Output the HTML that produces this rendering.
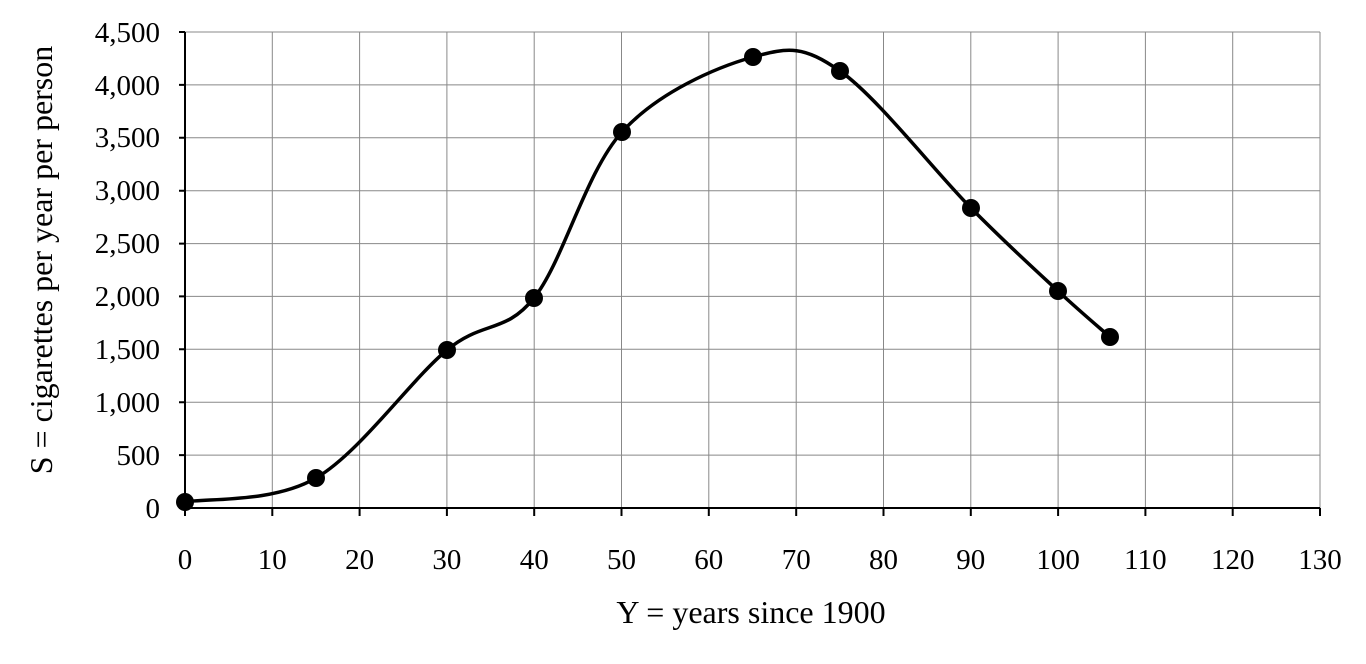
<!DOCTYPE html>
<html><head><style>body{margin:0;background:#fff}</style></head><body>
<svg width="1366" height="659" xmlns="http://www.w3.org/2000/svg" font-family="Liberation Serif, serif" font-size="29">
<g stroke="#888" stroke-width="1">
<line x1="185" y1="455.1" x2="1320" y2="455.1"/><line x1="185" y1="402.2" x2="1320" y2="402.2"/>
<line x1="185" y1="349.3" x2="1320" y2="349.3"/><line x1="185" y1="296.4" x2="1320" y2="296.4"/>
<line x1="185" y1="243.6" x2="1320" y2="243.6"/><line x1="185" y1="190.7" x2="1320" y2="190.7"/>
<line x1="185" y1="137.8" x2="1320" y2="137.8"/><line x1="185" y1="84.9" x2="1320" y2="84.9"/>
<line x1="185" y1="32" x2="1320" y2="32"/>
<line x1="272.3" y1="32" x2="272.3" y2="508"/><line x1="359.6" y1="32" x2="359.6" y2="508"/>
<line x1="446.9" y1="32" x2="446.9" y2="508"/><line x1="534.2" y1="32" x2="534.2" y2="508"/>
<line x1="621.5" y1="32" x2="621.5" y2="508"/><line x1="708.8" y1="32" x2="708.8" y2="508"/>
<line x1="796.2" y1="32" x2="796.2" y2="508"/><line x1="883.5" y1="32" x2="883.5" y2="508"/>
<line x1="970.8" y1="32" x2="970.8" y2="508"/><line x1="1058.1" y1="32" x2="1058.1" y2="508"/>
<line x1="1145.4" y1="32" x2="1145.4" y2="508"/><line x1="1232.7" y1="32" x2="1232.7" y2="508"/>
<line x1="1320" y1="32" x2="1320" y2="508"/>
</g>
<g stroke="#000" stroke-width="2">
<line x1="185" y1="32" x2="185" y2="508"/><line x1="185" y1="508" x2="1320" y2="508"/>
<path d="M179 508H185M179 455.1H185M179 402.2H185M179 349.3H185M179 296.4H185M179 243.6H185M179 190.7H185M179 137.8H185M179 84.9H185M179 32H185"/>
<path d="M185 508V516M272.3 508V516M359.6 508V516M446.9 508V516M534.2 508V516M621.5 508V516M708.8 508V516M796.2 508V516M883.5 508V516M970.8 508V516M1058.1 508V516M1145.4 508V516M1232.7 508V516M1320 508V516"/>
</g>
<path fill="none" stroke="#000" stroke-width="3.5" d="M185 502C206.8 498 272.3 503.3 316 478C359.7 452.7 410.7 380 447 350C483.3 320 504.8 334.3 534 298C563.2 261.7 585.5 172.2 622 132C658.5 91.8 716.7 67.2 753 57C789.3 46.8 803.7 45.8 840 71C876.3 96.2 934.7 171.3 971 208C1007.3 244.7 1034.8 269.5 1058 291C1081.2 312.5 1101.3 329.3 1110 337"/>
<g fill="#000">
<circle cx="185" cy="502" r="9"/><circle cx="316" cy="478" r="9"/><circle cx="447" cy="350" r="9"/>
<circle cx="534" cy="298" r="9"/><circle cx="622" cy="132" r="9"/><circle cx="753" cy="57" r="9"/>
<circle cx="840" cy="71" r="9"/><circle cx="971" cy="208" r="9"/><circle cx="1058" cy="291" r="9"/>
<circle cx="1110" cy="337" r="9"/>
</g>
<g text-anchor="end">
<text x="160" y="518">0</text><text x="160" y="465">500</text><text x="160" y="412">1,000</text>
<text x="160" y="359">1,500</text><text x="160" y="306">2,000</text><text x="160" y="253">2,500</text>
<text x="160" y="200">3,000</text><text x="160" y="147">3,500</text><text x="160" y="95">4,000</text>
<text x="160" y="42">4,500</text>
</g>
<g text-anchor="middle">
<text x="185" y="569">0</text><text x="272.3" y="569">10</text><text x="359.6" y="569">20</text>
<text x="446.9" y="569">30</text><text x="534.2" y="569">40</text><text x="621.5" y="569">50</text>
<text x="708.8" y="569">60</text><text x="796.2" y="569">70</text><text x="883.5" y="569">80</text>
<text x="970.8" y="569">90</text><text x="1058.1" y="569">100</text><text x="1145.4" y="569">110</text>
<text x="1232.7" y="569">120</text><text x="1320" y="569">130</text>
<text x="751" y="623" font-size="32">Y = years since 1900</text>
<text transform="translate(52 260) rotate(-90)" font-size="32">S = cigarettes per year per person</text>
</g>
</svg>
</body></html>
